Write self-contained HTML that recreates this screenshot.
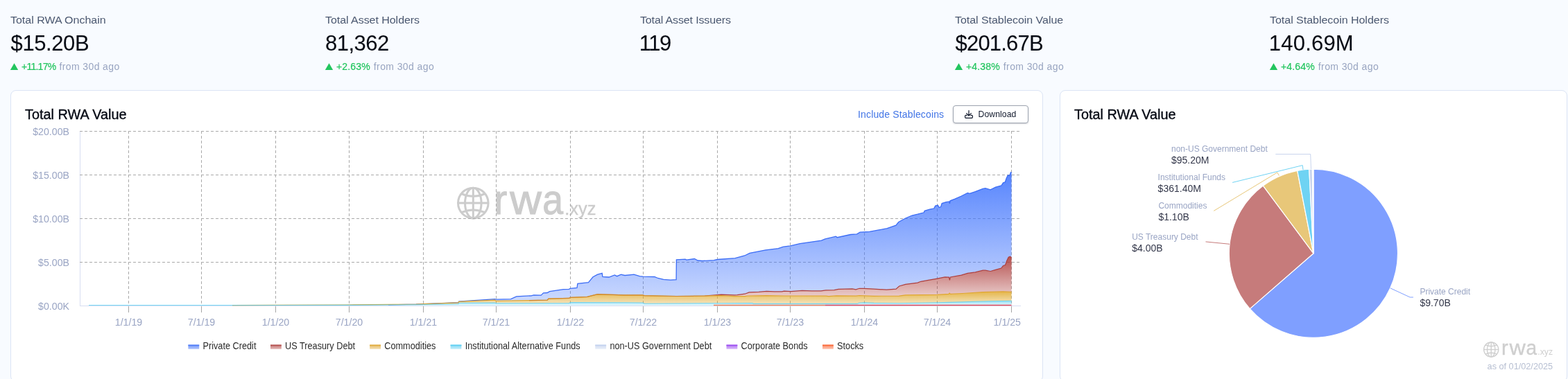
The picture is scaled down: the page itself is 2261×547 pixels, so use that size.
<!DOCTYPE html>
<html lang="en">
<head>
<meta charset="utf-8">
<title>RWA.xyz</title>
<style>
*{box-sizing:border-box;margin:0;padding:0}
html,body{width:2261px;height:547px;overflow:hidden;background:#f8fbff;font-family:"Liberation Sans",sans-serif}
.st{position:absolute;top:0;white-space:nowrap}
.sl{position:absolute;left:0;top:20px;font-size:15.5px;line-height:18px;color:#4b5870;transform:scaleX(1.033);transform-origin:0 50%}
.sv{position:absolute;left:0;top:45.4px;font-size:31px;line-height:36px;color:#070b14;-webkit-text-stroke:.08px #070b14}
.sc{position:absolute;left:0;top:88px;font-size:14px;line-height:16px;color:#99a5c1}
.tri{position:absolute;left:-3.8px;top:-.7px;color:#22c55e;font-size:17.5px;line-height:16px;transform:scale(1.1,.96);transform-origin:0 50%}
.pc{color:#22c55e;margin-right:5px;margin-left:16px;-webkit-text-stroke:.2px #22c55e}
.fr{letter-spacing:.4px}
.card{position:absolute;top:130px;height:421px;background:#fff;border:1px solid #dbe4f5;border-radius:8px}
.ct{position:absolute;font-size:19.4px;line-height:24px;color:#060a14;-webkit-text-stroke:.35px #060a14;transform:scaleX(1.025);transform-origin:0 50%;letter-spacing:0;white-space:nowrap}
.inc{position:absolute;left:1237px;top:157.4px;font-size:14px;line-height:16px;color:#4275e6;letter-spacing:.15px;white-space:nowrap}
.btn{position:absolute;left:1374px;top:152px;width:109px;height:26px;border:1px solid #9ca3af;border-radius:4px;background:#fff;box-shadow:0 1px 2px rgba(15,23,42,.18)}
.btn span{position:absolute;left:35.5px;top:5.3px;font-size:12.2px;line-height:14px;color:#0f172a;letter-spacing:.1px}
svg{position:absolute;left:0;top:0}
.g{stroke:#a9a9a9;stroke-width:1;stroke-dasharray:4 3;shape-rendering:crispEdges}
.t{stroke:#a6a6a6;stroke-width:1;shape-rendering:crispEdges}
.ax{font-size:14.2px;fill:#9aa5c4;font-family:"Liberation Sans",sans-serif}
.lg{font-size:14px;fill:#2b2b2b;font-family:"Liberation Sans",sans-serif}
.pn{font-size:12px;fill:#9aa5c4;font-family:"Liberation Sans",sans-serif}
.pv{font-size:14px;fill:#33374a;font-family:"Liberation Sans",sans-serif}
.wm{fill:#ccc;font-family:"Liberation Sans",sans-serif}
</style>
</head>
<body>
<div class="st" style="left:15px"><div class="sl" style="letter-spacing:-0.02px">Total RWA Onchain</div><div class="sv" style="letter-spacing:-0.42px;left:0.6px">$15.20B</div><div class="sc"><span class="tri">&#9650;</span><span class="pc" style="letter-spacing:-0.75px">+11.17%</span><span class="fr">from 30d ago</span></div></div>
<div class="st" style="left:469px"><div class="sl" style="letter-spacing:-0.05px">Total Asset Holders</div><div class="sv" style="letter-spacing:-0.5px;left:0px">81,362</div><div class="sc"><span class="tri">&#9650;</span><span class="pc" style="letter-spacing:0.15px">+2.63%</span><span class="fr">from 30d ago</span></div></div>
<div class="st" style="left:923px"><div class="sl" style="letter-spacing:-0.14px">Total Asset Issuers</div><div class="sv" style="letter-spacing:-1.5px;left:-1.2px">119</div></div>
<div class="st" style="left:1377px"><div class="sl" style="letter-spacing:-0.05px">Total Stablecoin Value</div><div class="sv" style="letter-spacing:-0.8px;left:0.5px">$201.67B</div><div class="sc"><span class="tri">&#9650;</span><span class="pc" style="letter-spacing:0.15px">+4.38%</span><span class="fr">from 30d ago</span></div></div>
<div class="st" style="left:1831px"><div class="sl" style="letter-spacing:-0.03px">Total Stablecoin Holders</div><div class="sv" style="letter-spacing:0.2px;left:-1.2px">140.69M</div><div class="sc"><span class="tri">&#9650;</span><span class="pc" style="letter-spacing:0.15px">+4.64%</span><span class="fr">from 30d ago</span></div></div>

<div class="card" style="left:15px;width:1489px"></div>
<div class="card" style="left:1528px;width:732px"></div>
<div class="ct" style="left:36px;top:153px">Total RWA Value</div>
<div class="ct" style="left:1549px;top:153px">Total RWA Value</div>
<div class="inc">Include Stablecoins</div>
<div class="btn"><span>Download</span></div>
<svg width="2261" height="547" viewBox="0 0 2261 547">
<defs>
<linearGradient id="gb" gradientUnits="userSpaceOnUse" x1="0" y1="248.5" x2="0" y2="440.5"><stop offset="0" stop-color="#3d72fd" stop-opacity=".87"/><stop offset="1" stop-color="#3d72fd" stop-opacity=".25"/></linearGradient>
<linearGradient id="gr" gradientUnits="userSpaceOnUse" x1="0" y1="370" x2="0" y2="427.8"><stop offset="0" stop-color="#a8312f" stop-opacity=".85"/><stop offset="1" stop-color="#a8312f" stop-opacity=".25"/></linearGradient>
<linearGradient id="gg" gradientUnits="userSpaceOnUse" x1="0" y1="420.9" x2="0" y2="440.6"><stop offset="0" stop-color="#e0a92c" stop-opacity=".85"/><stop offset="1" stop-color="#e0a92c" stop-opacity=".25"/></linearGradient>
<linearGradient id="gc" gradientUnits="userSpaceOnUse" x1="0" y1="434.2" x2="0" y2="440.8"><stop offset="0" stop-color="#4ecbf1" stop-opacity=".6"/><stop offset="1" stop-color="#4ecbf1" stop-opacity=".15"/></linearGradient>
<linearGradient id="lb" x1="0" y1="0" x2="0" y2="1"><stop offset="0" stop-color="#4f7cf7"/><stop offset="1" stop-color="#9db6fb"/></linearGradient>
<linearGradient id="lr" x1="0" y1="0" x2="0" y2="1"><stop offset="0" stop-color="#b5504e"/><stop offset="1" stop-color="#dba5a3"/></linearGradient>
<linearGradient id="lg" x1="0" y1="0" x2="0" y2="1"><stop offset="0" stop-color="#e0ab3c"/><stop offset="1" stop-color="#f0d69e"/></linearGradient>
<linearGradient id="lc" x1="0" y1="0" x2="0" y2="1"><stop offset="0" stop-color="#5fcff2"/><stop offset="1" stop-color="#b4e8f9"/></linearGradient>
<linearGradient id="ln" x1="0" y1="0" x2="0" y2="1"><stop offset="0" stop-color="#c3d1ee"/><stop offset="1" stop-color="#e3eaf7"/></linearGradient>
<linearGradient id="lp" x1="0" y1="0" x2="0" y2="1"><stop offset="0" stop-color="#9b4df0"/><stop offset="1" stop-color="#cfa8f8"/></linearGradient>
<linearGradient id="lo" x1="0" y1="0" x2="0" y2="1"><stop offset="0" stop-color="#fb6a3a"/><stop offset="1" stop-color="#fdb59d"/></linearGradient>
</defs>
<!-- download icon -->
<g fill="none" stroke="#0f172a" stroke-width="1.2" stroke-linecap="round" stroke-linejoin="round">
<path d="M1397,159.5 V166.5 M1393.6,163.6 L1397,167 L1400.4,163.6"/>
<path d="M1394.2,166.3 H1392.8 Q1391.6,166.3 1391.6,167.5 V169 Q1391.6,170.3 1392.8,170.3 H1401.2 Q1402.4,170.3 1402.4,169 V167.5 Q1402.4,166.3 1401.2,166.3 H1399.8"/>
</g>
<!-- watermark -->
<g fill="none" stroke="#ccc" stroke-width="3"><circle cx="682.3" cy="293.1" r="21.8"/><ellipse cx="682.3" cy="293.1" rx="11.77" ry="21.8"/><line x1="682.3" y1="271.3" x2="682.3" y2="314.90000000000003"/><line x1="660.5" y1="293.1" x2="704.0999999999999" y2="293.1"/><path d="M665.30,279.58 Q682.3,287.00 699.30,279.58"/><path d="M665.30,306.62 Q682.3,299.20 699.30,306.62"/></g>
<text class="wm" font-size="61.5" stroke="#ccc" stroke-width="1.1"><tspan x="712.3" y="309.3" textLength="19" lengthAdjust="spacingAndGlyphs">r</tspan><tspan x="735.2" y="309.3" textLength="45.6" lengthAdjust="spacingAndGlyphs">w</tspan><tspan x="782.2" y="309.3" textLength="29.8" lengthAdjust="spacingAndGlyphs">a</tspan></text>
<text x="814.3" y="309.6" class="wm" font-size="25.4" stroke="#ccc" stroke-width="0.4">.xyz</text>
<!-- axes -->
<line x1="115.5" x2="115.5" y1="189" y2="442" stroke="#d8def2" stroke-width="1" shape-rendering="crispEdges"/>
<line x1="115" x2="1472" y1="441.5" y2="441.5" stroke="#d8def2" stroke-width="1" shape-rendering="crispEdges"/>
<!-- grid -->
<line x1="115" x2="1470" y1="189.5" y2="189.5" class="g"/><line x1="115" x2="1470" y1="252.5" y2="252.5" class="g"/><line x1="115" x2="1470" y1="315.5" y2="315.5" class="g"/><line x1="115" x2="1470" y1="378.5" y2="378.5" class="g"/><line x1="185.5" x2="185.5" y1="189" y2="441" class="g"/><line x1="290.5" x2="290.5" y1="189" y2="441" class="g"/><line x1="397.5" x2="397.5" y1="189" y2="441" class="g"/><line x1="503.5" x2="503.5" y1="189" y2="441" class="g"/><line x1="610.5" x2="610.5" y1="189" y2="441" class="g"/><line x1="715.5" x2="715.5" y1="189" y2="441" class="g"/><line x1="822.5" x2="822.5" y1="189" y2="441" class="g"/><line x1="927.5" x2="927.5" y1="189" y2="441" class="g"/><line x1="1034.5" x2="1034.5" y1="189" y2="441" class="g"/><line x1="1139.5" x2="1139.5" y1="189" y2="441" class="g"/><line x1="1246.5" x2="1246.5" y1="189" y2="441" class="g"/><line x1="1351.5" x2="1351.5" y1="189" y2="441" class="g"/><line x1="1458.5" x2="1458.5" y1="189" y2="441" class="g"/>
<!-- areas -->
<path d="M560.0,439.9 L600.0,439.2 L660.9,436.7 L661.7,435.0 L713.5,431.6 L715.2,432.2 L736.6,431.6 L744.8,427.8 L766.2,426.8 L769.5,425.8 L780.2,426.2 L783.5,422.9 L789.2,422.5 L792.5,420.6 L812.3,417.6 L820.5,417.3 L822.2,416.3 L832.0,415.5 L832.9,409.4 L848.5,407.7 L851.8,403.6 L855.0,399.8 L861.6,396.2 L868.2,394.4 L869.0,399.3 L878.1,400.0 L886.3,397.0 L889.6,398.7 L895.5,396.2 L901.0,397.5 L914.2,396.2 L922.4,398.7 L927.3,399.2 L943.8,399.5 L948.7,401.5 L957.0,403.4 L966.8,404.1 L975.1,403.6 L975.4,374.8 L988.2,374.2 L989.9,375.1 L1001.4,373.5 L1006.3,376.0 L1012.9,376.5 L1029.4,375.6 L1034.3,374.5 L1060.0,372.7 L1073.7,369.0 L1081.0,365.3 L1103.9,360.8 L1122.2,358.6 L1129.5,356.2 L1139.6,354.9 L1153.3,351.6 L1184.4,347.1 L1189.8,344.9 L1205.4,341.2 L1207.2,342.7 L1226.4,338.5 L1235.6,337.9 L1240.1,335.2 L1253.9,334.3 L1268.5,331.7 L1279.2,329.7 L1292.0,325.1 L1295.7,320.5 L1305.7,315.0 L1314.9,311.0 L1323.1,309.2 L1332.2,306.8 L1333.2,304.4 L1340.5,302.2 L1346.9,300.8 L1348.7,297.1 L1352.4,296.2 L1354.2,299.5 L1356.6,298.6 L1358.2,293.6 L1364.2,291.6 L1368.8,290.9 L1369.4,294.0 L1370.1,289.8 L1377.0,287.1 L1386.2,283.0 L1395.3,278.5 L1398.1,279.4 L1406.3,276.6 L1417.3,272.4 L1420.9,271.7 L1428.2,273.9 L1435.6,270.2 L1443.8,268.0 L1446.5,263.8 L1449.3,262.9 L1451.3,257.0 L1453.3,253.0 L1455.7,253.4 L1457.6,248.6 L1458.6,249.2 L1458.6,371.9 L1456.6,370.1 L1454.2,371.3 L1451.7,376.5 L1449.6,382.5 L1446.5,383.4 L1443.8,387.1 L1435.6,389.3 L1428.2,391.5 L1420.9,390.2 L1417.3,390.2 L1406.3,392.9 L1395.3,394.4 L1388.0,396.6 L1386.2,397.1 L1370.3,399.9 L1369.4,404.3 L1369.2,403.5 L1368.4,400.2 L1367.9,400.2 L1362.4,399.9 L1351.4,402.1 L1338.6,404.4 L1327.7,406.3 L1323.1,408.1 L1305.7,410.3 L1296.6,413.0 L1292.0,417.1 L1278.3,418.2 L1260.0,417.1 L1246.1,416.4 L1239.1,416.3 L1234.1,417.9 L1229.0,416.9 L1208.9,417.3 L1205.9,418.0 L1202.9,418.6 L1194.9,418.8 L1190.8,418.9 L1183.8,419.8 L1170.7,419.9 L1156.6,419.4 L1140.6,420.6 L1130.5,420.1 L1127.5,420.9 L1116.4,420.8 L1105.4,420.3 L1094.3,421.3 L1080.2,421.9 L1078.2,422.7 L1074.2,424.2 L1063.1,425.7 L1059.1,425.9 L1040.0,425.2 L1016.0,427.0 L1000.0,427.3 L975.0,427.5 L929.0,426.6 L927.3,425.8 L900.0,425.8 L861.6,424.7 L846.8,428.3 L822.2,429.4 L820.5,430.4 L790.9,431.1 L789.2,433.2 L763.0,433.7 L715.2,434.4 L713.5,433.2 L661.7,435.4 L660.9,436.9 L600.0,439.2 L560.0,439.5 Z" fill="url(#gb)"/>
<path d="M1000.0,427.3 L1016.0,427.0 L1040.0,425.2 L1059.1,425.9 L1063.1,425.7 L1074.2,424.2 L1080.2,421.9 L1094.3,421.3 L1105.4,420.3 L1116.4,420.8 L1127.5,420.9 L1130.5,420.1 L1140.6,420.6 L1156.6,419.4 L1170.7,419.9 L1183.8,419.8 L1190.8,418.9 L1202.9,418.6 L1208.9,417.3 L1229.0,416.9 L1234.1,417.9 L1239.1,416.3 L1246.1,416.4 L1260.0,417.1 L1278.3,418.2 L1292.0,417.1 L1296.6,413.0 L1305.7,410.3 L1323.1,408.1 L1327.7,406.3 L1338.6,404.4 L1351.4,402.1 L1362.4,399.9 L1368.4,400.2 L1369.4,404.3 L1370.3,399.9 L1386.2,397.1 L1395.3,394.4 L1406.3,392.9 L1417.3,390.2 L1420.9,390.2 L1428.2,391.5 L1435.6,389.3 L1443.8,387.1 L1446.5,383.4 L1449.6,382.5 L1451.7,376.5 L1454.2,371.3 L1456.6,370.1 L1458.6,371.9 L1458.6,421.3 L1446.5,420.9 L1417.3,421.6 L1388.0,423.5 L1370.3,424.4 L1369.2,423.1 L1367.9,424.4 L1351.4,425.3 L1305.7,425.8 L1296.6,427.1 L1260.0,427.3 L1239.1,426.5 L1234.1,427.2 L1205.9,426.9 L1194.9,427.7 L1190.8,427.2 L1130.5,427.0 L1105.4,426.7 L1078.2,427.0 L1074.2,427.7 L1059.1,427.7 L1040.0,426.7 L1016.0,427.2 L1000.0,427.3 Z" fill="url(#gr)"/>
<path d="M335.0,440.6 L400.0,440.4 L500.0,440.0 L600.0,439.2 L660.9,436.9 L661.7,435.4 L713.5,433.2 L715.2,434.4 L763.0,433.7 L789.2,433.2 L790.9,431.1 L820.5,430.4 L822.2,429.4 L846.8,428.3 L861.6,424.7 L900.0,425.8 L927.3,425.8 L929.0,426.6 L975.0,427.5 L1016.0,427.2 L1040.0,426.7 L1059.1,427.7 L1074.2,427.7 L1078.2,427.0 L1105.4,426.7 L1130.5,427.0 L1190.8,427.2 L1194.9,427.7 L1205.9,426.9 L1234.1,427.2 L1239.1,426.5 L1260.0,427.3 L1296.6,427.1 L1305.7,425.8 L1351.4,425.3 L1367.9,424.4 L1369.2,423.1 L1370.3,424.4 L1388.0,423.5 L1417.3,421.6 L1446.5,420.9 L1458.6,421.3 L1458.6,434.2 L1417.3,435.0 L1369.7,436.4 L1351.4,436.8 L1296.6,437.7 L1260.0,437.4 L1246.1,436.7 L1238.6,437.2 L1236.1,438.4 L1086.3,438.4 L1085.2,437.5 L1040.0,437.7 L929.0,438.2 L927.3,437.0 L900.0,436.8 L822.2,436.5 L820.5,437.7 L715.2,437.8 L713.5,437.0 L661.7,437.3 L660.9,438.8 L600.0,439.8 L500.0,440.4 L400.0,440.5 L335.0,440.5 Z" fill="url(#gg)"/>
<path d="M128.0,440.5 L400.0,440.5 L500.0,440.4 L600.0,439.8 L660.9,438.8 L661.7,437.3 L713.5,437.0 L715.2,437.8 L820.5,437.7 L822.2,436.5 L900.0,436.8 L927.3,437.0 L929.0,438.2 L1040.0,437.7 L1085.2,437.5 L1086.3,438.4 L1236.1,438.4 L1238.6,437.2 L1246.1,436.7 L1260.0,437.4 L1296.6,437.7 L1351.4,436.8 L1369.7,436.4 L1417.3,435.0 L1458.6,434.2 L1458.6,441.0 L128.0,441.0 Z" fill="url(#gc)"/>
<path d="M560.0,439.9 L600.0,439.2 L660.9,436.7 L661.7,435.0 L713.5,431.6 L715.2,432.2 L736.6,431.6 L744.8,427.8 L766.2,426.8 L769.5,425.8 L780.2,426.2 L783.5,422.9 L789.2,422.5 L792.5,420.6 L812.3,417.6 L820.5,417.3 L822.2,416.3 L832.0,415.5 L832.9,409.4 L848.5,407.7 L851.8,403.6 L855.0,399.8 L861.6,396.2 L868.2,394.4 L869.0,399.3 L878.1,400.0 L886.3,397.0 L889.6,398.7 L895.5,396.2 L901.0,397.5 L914.2,396.2 L922.4,398.7 L927.3,399.2 L943.8,399.5 L948.7,401.5 L957.0,403.4 L966.8,404.1 L975.1,403.6 L975.4,374.8 L988.2,374.2 L989.9,375.1 L1001.4,373.5 L1006.3,376.0 L1012.9,376.5 L1029.4,375.6 L1034.3,374.5 L1060.0,372.7 L1073.7,369.0 L1081.0,365.3 L1103.9,360.8 L1122.2,358.6 L1129.5,356.2 L1139.6,354.9 L1153.3,351.6 L1184.4,347.1 L1189.8,344.9 L1205.4,341.2 L1207.2,342.7 L1226.4,338.5 L1235.6,337.9 L1240.1,335.2 L1253.9,334.3 L1268.5,331.7 L1279.2,329.7 L1292.0,325.1 L1295.7,320.5 L1305.7,315.0 L1314.9,311.0 L1323.1,309.2 L1332.2,306.8 L1333.2,304.4 L1340.5,302.2 L1346.9,300.8 L1348.7,297.1 L1352.4,296.2 L1354.2,299.5 L1356.6,298.6 L1358.2,293.6 L1364.2,291.6 L1368.8,290.9 L1369.4,294.0 L1370.1,289.8 L1377.0,287.1 L1386.2,283.0 L1395.3,278.5 L1398.1,279.4 L1406.3,276.6 L1417.3,272.4 L1420.9,271.7 L1428.2,273.9 L1435.6,270.2 L1443.8,268.0 L1446.5,263.8 L1449.3,262.9 L1451.3,257.0 L1453.3,253.0 L1455.7,253.4 L1457.6,248.6 L1458.6,249.2" fill="none" stroke="#3b6cf5" stroke-width="1.3"/>
<path d="M1000.0,427.3 L1016.0,427.0 L1040.0,425.2 L1059.1,425.9 L1063.1,425.7 L1074.2,424.2 L1080.2,421.9 L1094.3,421.3 L1105.4,420.3 L1116.4,420.8 L1127.5,420.9 L1130.5,420.1 L1140.6,420.6 L1156.6,419.4 L1170.7,419.9 L1183.8,419.8 L1190.8,418.9 L1202.9,418.6 L1208.9,417.3 L1229.0,416.9 L1234.1,417.9 L1239.1,416.3 L1246.1,416.4 L1260.0,417.1 L1278.3,418.2 L1292.0,417.1 L1296.6,413.0 L1305.7,410.3 L1323.1,408.1 L1327.7,406.3 L1338.6,404.4 L1351.4,402.1 L1362.4,399.9 L1368.4,400.2 L1369.4,404.3 L1370.3,399.9 L1386.2,397.1 L1395.3,394.4 L1406.3,392.9 L1417.3,390.2 L1420.9,390.2 L1428.2,391.5 L1435.6,389.3 L1443.8,387.1 L1446.5,383.4 L1449.6,382.5 L1451.7,376.5 L1454.2,371.3 L1456.6,370.1 L1458.6,371.9" fill="none" stroke="#ad3f3d" stroke-width="1.2"/>
<path d="M335.0,440.6 L400.0,440.4 L500.0,440.0 L600.0,439.2 L660.9,436.9 L661.7,435.4 L713.5,433.2 L715.2,434.4 L763.0,433.7 L789.2,433.2 L790.9,431.1 L820.5,430.4 L822.2,429.4 L846.8,428.3 L861.6,424.7 L900.0,425.8 L927.3,425.8 L929.0,426.6 L975.0,427.5 L1016.0,427.2 L1040.0,426.7 L1059.1,427.7 L1074.2,427.7 L1078.2,427.0 L1105.4,426.7 L1130.5,427.0 L1190.8,427.2 L1194.9,427.7 L1205.9,426.9 L1234.1,427.2 L1239.1,426.5 L1260.0,427.3 L1296.6,427.1 L1305.7,425.8 L1351.4,425.3 L1367.9,424.4 L1369.2,423.1 L1370.3,424.4 L1388.0,423.5 L1417.3,421.6 L1446.5,420.9 L1458.6,421.3" fill="none" stroke="#dfa630" stroke-width="1.2"/>
<path d="M763.0,433.7 L789.2,433.2 L790.9,431.1 L820.5,430.4 L822.2,429.4 L846.8,428.3 L861.6,424.7 L900.0,425.8 L927.3,425.8 L929.0,426.6 L975.0,427.5 L1000.0,427.3" fill="none" stroke="#c8782a" stroke-opacity=".7" stroke-width="1.2"/>
<path d="M128.0,440.5 L400.0,440.5 L500.0,440.4 L600.0,439.8 L660.9,438.8 L661.7,437.3 L713.5,437.0 L715.2,437.8 L820.5,437.7 L822.2,436.5 L900.0,436.8 L927.3,437.0 L929.0,438.2 L1040.0,437.7 L1085.2,437.5 L1086.3,438.4 L1236.1,438.4 L1238.6,437.2 L1246.1,436.7 L1260.0,437.4 L1296.6,437.7 L1351.4,436.8 L1369.7,436.4 L1417.3,435.0 L1458.6,434.2" fill="none" stroke="#4ecbf1" stroke-opacity=".75" stroke-width="1.1"/>
<line x1="1029" x2="1190" y1="440.5" y2="440.5" stroke="#f0845c" stroke-width="1.3"/><line x1="1190" x2="1458.6" y1="440.5" y2="440.5" stroke="#e24b5c" stroke-width="1.3"/>
<line x1="185.5" x2="185.5" y1="442" y2="451" class="t"/><line x1="290.5" x2="290.5" y1="442" y2="451" class="t"/><line x1="397.5" x2="397.5" y1="442" y2="451" class="t"/><line x1="503.5" x2="503.5" y1="442" y2="451" class="t"/><line x1="610.5" x2="610.5" y1="442" y2="451" class="t"/><line x1="715.5" x2="715.5" y1="442" y2="451" class="t"/><line x1="822.5" x2="822.5" y1="442" y2="451" class="t"/><line x1="927.5" x2="927.5" y1="442" y2="451" class="t"/><line x1="1034.5" x2="1034.5" y1="442" y2="451" class="t"/><line x1="1139.5" x2="1139.5" y1="442" y2="451" class="t"/><line x1="1246.5" x2="1246.5" y1="442" y2="451" class="t"/><line x1="1351.5" x2="1351.5" y1="442" y2="451" class="t"/><line x1="1458.5" x2="1458.5" y1="442" y2="451" class="t"/>

<text x="100" y="195.0" text-anchor="end" class="ax">$20.00B</text><text x="100" y="258.0" text-anchor="end" class="ax">$15.00B</text><text x="100" y="321.0" text-anchor="end" class="ax">$10.00B</text><text x="100" y="384.0" text-anchor="end" class="ax">$5.00B</text><text x="100" y="447.0" text-anchor="end" class="ax">$0.00K</text><text x="185.5" y="470" text-anchor="middle" class="ax">1/1/19</text><text x="290.5" y="470" text-anchor="middle" class="ax">7/1/19</text><text x="397.5" y="470" text-anchor="middle" class="ax">1/1/20</text><text x="503.5" y="470" text-anchor="middle" class="ax">7/1/20</text><text x="610.5" y="470" text-anchor="middle" class="ax">1/1/21</text><text x="715.5" y="470" text-anchor="middle" class="ax">7/1/21</text><text x="822.5" y="470" text-anchor="middle" class="ax">1/1/22</text><text x="927.5" y="470" text-anchor="middle" class="ax">7/1/22</text><text x="1034.5" y="470" text-anchor="middle" class="ax">1/1/23</text><text x="1139.5" y="470" text-anchor="middle" class="ax">7/1/23</text><text x="1246.5" y="470" text-anchor="middle" class="ax">1/1/24</text><text x="1351.5" y="470" text-anchor="middle" class="ax">7/1/24</text><text x="1472" y="470" text-anchor="end" class="ax">1/1/25</text>
<rect x="271.4" y="497.6" width="15.8" height="6.2" fill="url(#lb)" opacity=".8"/><rect x="271.4" y="497.6" width="15.8" height="1.6" fill="#4f7cf7"/><text transform="translate(292.5,504.3) scale(0.908,1)" class="lg">Private Credit</text><rect x="390" y="497.6" width="15.8" height="6.2" fill="url(#lr)" opacity=".8"/><rect x="390" y="497.6" width="15.8" height="1.6" fill="#b5504e"/><text transform="translate(411.1,504.3) scale(0.908,1)" class="lg">US Treasury Debt</text><rect x="533.2" y="497.6" width="15.8" height="6.2" fill="url(#lg)" opacity=".8"/><rect x="533.2" y="497.6" width="15.8" height="1.6" fill="#e0ab3c"/><text transform="translate(554.3,504.3) scale(0.908,1)" class="lg">Commodities</text><rect x="649.6" y="497.6" width="15.8" height="6.2" fill="url(#lc)" opacity=".8"/><rect x="649.6" y="497.6" width="15.8" height="1.6" fill="#5fcff2"/><text transform="translate(670.7,504.3) scale(0.908,1)" class="lg">Institutional Alternative Funds</text><rect x="858.3" y="497.6" width="15.8" height="6.2" fill="url(#ln)" opacity=".8"/><rect x="858.3" y="497.6" width="15.8" height="1.6" fill="#c3d1ee"/><text transform="translate(879.4,504.3) scale(0.908,1)" class="lg">non-US Government Debt</text><rect x="1047.5" y="497.6" width="15.8" height="6.2" fill="url(#lp)" opacity=".8"/><rect x="1047.5" y="497.6" width="15.8" height="1.6" fill="#9b4df0"/><text transform="translate(1068.6,504.3) scale(0.908,1)" class="lg">Corporate Bonds</text><rect x="1186" y="497.6" width="15.8" height="6.2" fill="url(#lo)" opacity=".8"/><rect x="1186" y="497.6" width="15.8" height="1.6" fill="#fb6a3a"/><text transform="translate(1207.1,504.3) scale(0.908,1)" class="lg">Stocks</text>
<!-- pie -->
<path d="M1893.9,365.7 L1893.90,244.10 A121.6,121.6 0 1 1 1802.27,445.64 Z" fill="#7f9fff" stroke="#fff" stroke-width="1.2" stroke-linejoin="round"/><path d="M1893.9,365.7 L1802.27,445.64 A121.6,121.6 0 0 1 1821.40,268.08 Z" fill="#c67b7b" stroke="#fff" stroke-width="1.2" stroke-linejoin="round"/><path d="M1893.9,365.7 L1821.40,268.08 A121.6,121.6 0 0 1 1870.70,246.33 Z" fill="#e8c779" stroke="#fff" stroke-width="1.2" stroke-linejoin="round"/><path d="M1893.9,365.7 L1870.70,246.33 A121.6,121.6 0 0 1 1887.75,244.26 Z" fill="#6fd3f3" stroke="#fff" stroke-width="1.2" stroke-linejoin="round"/><path d="M1893.9,365.7 L1887.75,244.26 A121.6,121.6 0 0 1 1892.41,244.11 Z" fill="#c9d5ee" stroke="#fff" stroke-width="1.2" stroke-linejoin="round"/><path d="M1893.9,365.7 L1892.41,244.11 A121.6,121.6 0 0 1 1893.90,244.10 Z" fill="#f1ecfb" stroke="#fff" stroke-width="1.2" stroke-linejoin="round"/>
<g fill="none" stroke-width="1">
<path d="M2004.7,415.8 L2033.2,429 L2037.9,429" stroke="#7f9fff"/>
<path d="M1738.5,348.9 L1773,352.3" stroke="#c67b7b"/>
<path d="M1750.2,304.4 L1841.8,248.9 L1844.4,253.5" stroke="#e8c779"/>
<path d="M1777.1,263.4 L1878.2,238.6 L1879,245" stroke="#6fd3f3"/>
<path d="M1839.3,222.5 L1889.7,222.5 L1890.5,244" stroke="#c9d5ee"/>
</g>
<text x="2047.4" y="425" class="pn">Private Credit</text>
<text x="2047.4" y="442" class="pv">$9.70B</text>
<text x="1632.2" y="345.6" class="pn">US Treasury Debt</text>
<text x="1632.2" y="362.8" class="pv">$4.00B</text>
<text x="1670.4" y="301" class="pn">Commodities</text>
<text x="1670.4" y="317.8" class="pv">$1.10B</text>
<text x="1669.6" y="260" class="pn">Institutional Funds</text>
<text x="1669.6" y="277.4" class="pv">$361.40M</text>
<text x="1689" y="219" class="pn">non-US Government Debt</text>
<text x="1689" y="236" class="pv">$95.20M</text>
<!-- pie watermark -->
<g fill="none" stroke="#cfcfcf" stroke-width="1.4"><circle cx="2150.2" cy="504.5" r="10.6"/><ellipse cx="2150.2" cy="504.5" rx="5.72" ry="10.6"/><line x1="2150.2" y1="493.9" x2="2150.2" y2="515.1"/><line x1="2139.6" y1="504.5" x2="2160.7999999999997" y2="504.5"/><path d="M2141.93,497.93 Q2150.2,501.53 2158.47,497.93"/><path d="M2141.93,511.07 Q2150.2,507.47 2158.47,511.07"/></g>
<text class="wm" font-size="29.6" stroke="#cfcfcf" stroke-width="0.35" style="fill:#cfcfcf"><tspan x="2164.9" y="512.3" textLength="9.7" lengthAdjust="spacingAndGlyphs">r</tspan><tspan x="2176.5" y="512.3" textLength="23.3" lengthAdjust="spacingAndGlyphs">w</tspan><tspan x="2200.5" y="512.3" textLength="15.6" lengthAdjust="spacingAndGlyphs">a</tspan></text>
<text x="2217.3" y="512.4" class="wm" font-size="12.3" style="fill:#cfcfcf">.xyz</text>
<text x="2144.6" y="533.4" font-size="12.7" fill="#b7bfd2" font-family="'Liberation Sans',sans-serif">as of 01/02/2025</text>
</svg>
</body>
</html>
